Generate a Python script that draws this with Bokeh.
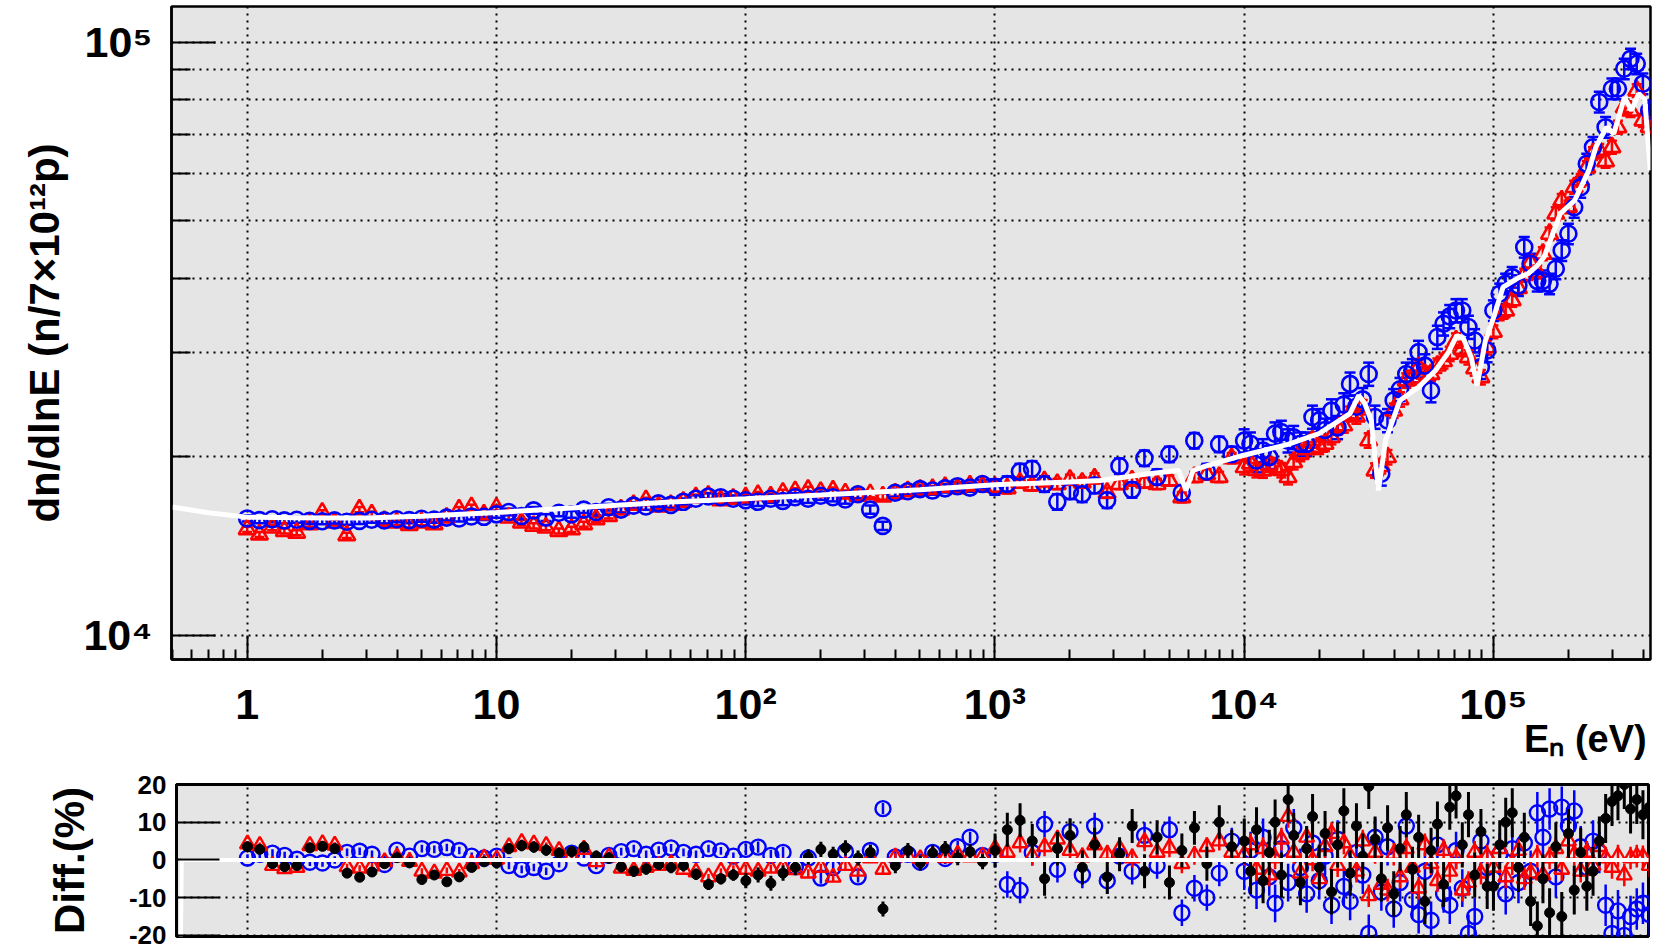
import math

from bokeh.embed import file_html
from bokeh.layouts import column, row
from bokeh.models import ColumnDataSource, FixedTicker, LogAxis, Range1d, TeeHead, Whisker
from bokeh.plotting import figure
from bokeh.resources import INLINE

# Neutron energy bins (eV): 20 per decade below 10 keV, 40 per decade above
energy_ev = [
    1.00, 1.12, 1.26, 1.41, 1.58, 1.78, 2.00, 2.24, 2.51, 2.82, 3.16, 3.55, 3.98, 4.47, 5.01, 5.62, 6.31, 7.08, 7.94, 8.91,
    10.0, 11.2, 12.6, 14.1, 15.8, 17.8, 20.0, 22.4, 25.1, 28.2, 31.6, 35.5, 39.8, 44.7, 50.1, 56.2, 63.1, 70.8, 79.4, 89.1,
    100, 112, 126, 141, 158, 178, 200, 224, 251, 282, 316, 355, 398, 447, 501, 562, 631, 708, 794, 891,
    1000, 1120, 1260, 1410, 1580, 1780, 2000, 2240, 2510, 2820, 3160, 3550, 3980, 4470, 5010, 5620, 6310, 7080, 7940, 8910,
    10000, 10600, 11200, 11900, 12600, 13300, 14100, 15000, 15800, 16800, 17800, 18800, 20000, 21100, 22400, 23700,
    25100, 26600, 28200, 29900, 31600, 33500, 35500, 37600, 39800, 42200, 44700, 47300, 50100, 53100, 56200, 59600,
    63100, 66800, 70800, 75000, 79400, 84100, 89100, 94400,
    100000, 106000, 112000, 119000, 126000, 133000, 141000, 150000, 158000, 168000, 178000, 188000, 200000,
    211000, 224000, 237000, 251000, 266000, 282000, 299000, 316000, 335000, 355000, 376000, 398000, 422000,
]

# dn/dlnE (n / 7x10^12 protons), blue data set
flux_blue = [
    15750, 15650, 15700, 15630, 15670, 15600, 15580, 15630, 15550, 15600, 15670, 15630, 15700, 15650, 15730, 15680, 15800, 15750, 15870, 15850,
    16000, 16150, 15900, 16250, 15800, 16100, 16000, 16300, 16150, 16450, 16300, 16550, 16500, 16700, 16600, 16800, 17000, 17150, 17100, 17000,
    16900, 16800, 17000, 16850, 17100, 17000, 17200, 17100, 16950, 17300, 16300, 15300, 17400, 17500, 17650, 17550, 17700, 17850, 17750, 18000,
    17800, 18000, 18900, 19100, 18000, 16800, 17500, 17300, 17900, 16900, 19300, 17600, 19900, 18500, 20200, 17400, 21300, 18900, 21000, 20200,
    21300, 21040, 19720, 20500, 19980, 21880, 22020, 21300, 21580, 21040,
    21040, 23350, 23040, 22200, 23930, 22430, 24500, 26550, 24300, 25000,
    27590, 23350, 18730, 23040, 24900, 26000, 27590, 27970, 30030, 28500,
    25880, 31840, 33530, 34500, 35300, 35300, 33100, 31420, 28330, 30230,
    35300, 37670, 39150, 40180, 38900, 45140, 42320, 39600, 39630, 39150, 41500, 44570, 47540,
    52700, 56970, 62370, 66530, 79300, 71900, 83480, 83480, 90200, 93740, 91950, 85120, 76700,
]

# dn/dlnE (n / 7x10^12 protons), red data set
flux_red = [
    15100, 14800, 15200, 15000, 14900, 15400, 16100, 15500, 14750, 16300, 16000, 15600, 15500, 15350, 15500, 15400, 15800, 16300, 16450, 16000,
    16400, 15800, 15500, 15300, 15200, 15000, 15100, 15400, 15700, 15900, 16300, 16600, 16900, 16500, 16600, 16800, 17100, 17200, 16900, 17000,
    17100, 17250, 17150, 17400, 17500, 17600, 17450, 17550, 17350, 17200, 17300, 17150, 17350, 17500, 17600, 17650, 17800, 17700, 17900, 17850,
    17800, 17700, 18100, 17900, 18200, 18000, 18300, 18100, 18400, 17400, 18000, 18250, 18100, 18000, 18250, 17100, 18500, 18700, 18500, 19900,
    19220, 19500, 19000, 18970, 19400, 19220, 19000, 18490, 19600, 20230,
    20600, 21320, 20800, 21040, 21600, 22430, 22600, 23650, 23400, 24260,
    21320, 18970, 19300, 19980, 23930, 25000, 26900, 27200, 28330, 27600,
    27590, 28500, 29000, 29840, 31420, 30400, 29440, 28200, 27250, 30600,
    32500, 34850, 35300, 36720, 38500, 40500, 42500, 41000, 44000, 47540, 51400, 54100, 52800,
    56970, 58500, 61500, 64900, 65700, 63000, 66530, 71900, 77700, 76700, 82900, 73800, 72000,
]

# relative uncertainty (%) per energy decade: 1 eV, 10 eV, 100 eV, 1 keV, 10 keV, 100 keV
flux_blue_err_pct = [1.2, 1.3, 1.6, 3.0, 4.5, 4.0]
flux_red_err_pct = [1.0, 1.0, 1.2, 2.0, 2.8, 2.5]

# simulated spectrum
sim_energy_ev = [
    0.5, 0.7, 1.0, 2.0, 3.0, 5.0, 10, 20, 50, 100, 200, 500,
    1000, 2000, 2650, 4000, 5000, 5465, 5840, 6240, 7000, 9890, 15000, 20000,
    26580, 28840, 30500, 32360, 34590, 36930, 42160, 50000, 58560, 66000, 71380, 76000,
    81470, 86100, 92900, 99300, 109400, 125000, 138000, 150000, 160000, 185500, 211800, 241500,
    257800, 284700, 304100, 335600, 358200, 382600, 405000, 426000,
]
sim_flux = [
    16460, 16100, 15830, 15770, 15780, 15880, 16120, 16400, 16780, 17000, 17250, 17600,
    17950, 18150, 18250, 18700, 18900, 18970, 17560, 18970, 19300, 20110, 21000, 21900,
    23650, 25390, 24600, 23040, 17560, 21320, 24900, 26200, 27970, 30000, 32040, 31600,
    29440, 26390, 31400, 33960, 38650, 40000, 40750, 42000, 43500, 51400, 54100, 60800,
    66600, 71900, 70100, 80700, 76700, 81900, 80000, 60800,
]

# difference to the simulation (%)
diff_blue = [
    0.5, 1.5, 1.8, 1.2, 0.2, -0.6, -0.8, 0.0, 2.0, 2.3, 1.5, -1.2, 2.6, 1.0, 3.0, 2.8, 3.3, 2.5, 1.0, 0.5,
    1.0, -1.5, -2.5, -2.0, -3.0, -1.0, 1.8, 0.5, -1.5, 1.2, 2.2, 3.0, 1.5, 2.6, 3.2, 2.0, 1.5, 3.0, 2.4, 1.0,
    2.8, 3.4, 1.2, 2.0, -1.8, 0.5, -4.8, -2.0, 2.2, -4.5, 2.5, 13.6, 0.8, 1.5, -0.6, 2.0, 0.4, 3.5, 6.0, 1.2,
    1.5, -6.5, -8.0, 2.0, 9.5, -2.5, 7.5, -4.0, 9.0, -5.5, 1.0, -3.0, 6.5, -1.5, 8.0, -14.0, -7.5, -10.0, -3.5, 5.0,
    -3.0, 2.5, -8.0, 6.0, -4.5, -11.5, 3.0, -6.0, 8.5, -2.0,
    -9.0, 4.5, -5.5, 1.0, -12.0, 5.5, -7.0, -11.0, 2.0, -4.0,
    -19.5, 6.0, -8.5, 3.5, -13.0, -6.0, 9.0, -10.5, -14.5, -3.0,
    -16.0, 4.0, -9.0, -12.0, 2.5, -7.5, -19.5, -15.0, 5.0, -2.0,
    -5.0, 1.5, -9.0, 3.0, -6.0, 4.5, -3.0, 12.5, 6.0, 13.5, -4.5, 14.0, 9.0,
    13.0, 3.5, -2.0, 5.0, 2.0, -12.0, -19.5, -13.5, -20.0, -15.0, -13.0, -11.5, -14.5,
]
diff_red = [
    4.2, 3.8, -1.5, -2.3, -2.0, 3.8, 4.3, 3.9, -1.8, -2.2, -1.6, -0.5, 0.8, -0.4, -3.0, -3.5, -2.8, -3.2, -1.0, 0.5,
    0.2, 3.5, 4.6, 4.2, 3.8, 2.5, 1.0, 2.8, -0.5, 0.8, -2.2, -2.8, -2.0, -1.5, -1.0, -2.5, -3.2, -4.5, -3.0, -2.2,
    -2.5, -3.0, -2.2, -1.8, -2.6, -3.5, -2.0, -4.6, -1.5, -3.0, 0.5, -2.5, 0.8, 1.0, 0.3, 1.2, 0.6, 1.5, 0.8, 1.0,
    3.0, 2.0, 4.5, 1.0, 3.5, 5.5, 2.5, 0.8, 4.0, 1.5, 3.0, 0.5, 4.8, 2.0, 3.2, -1.0, 1.2, 3.5, 5.0, 2.0,
    1.5, 4.0, -2.5, 3.0, -4.0, 0.5, 5.5, 11.5, 2.0, -3.5,
    6.0, 0.0, -5.0, 3.5, 7.0, -1.5, 4.5, 1.0, -3.0, 5.0,
    -9.5, 2.0, -6.5, -8.0, 1.5, -4.5, 3.0, -2.0, -7.5, 4.0,
    -1.0, -5.5, 2.5, -3.0, 0.5, -8.0, -6.0, 2.0, -3.5, 1.0,
    -2.0, 3.0, -4.5, -1.0, 2.5, -5.0, -3.5, 1.0, -4.0, 0.5, 3.0, -2.5, 5.0,
    1.5, -3.0, 2.0, -1.5, 3.5, 0.5, -2.0, 1.0, -4.0, 0.5, 1.0, 0.8, -1.5,
]
diff_black = [
    3.5, 2.8, -1.0, -1.8, -1.5, 3.2, 3.6, 3.0, -3.5, -4.6, -3.2, -1.0, 0.6, -0.8, -5.2, -4.0, -5.8, -4.5, -2.0, -0.5,
    -0.8, 3.0, 3.8, 3.4, 2.6, 1.8, 2.2, 3.4, 1.0, 0.5, -1.8, -3.0, -2.4, -1.2, -2.0, -1.5, -3.8, -6.5, -5.0, -4.0,
    -5.5, -4.0, -6.2, -3.5, -2.0, 0.8, 2.8, 1.5, 3.2, 0.5, 2.0, -13.0, -1.5, 2.5, -0.8, 1.8, 3.0, 0.6, 2.2, -0.5,
    2.5, 8.0, 10.5, 5.0, -5.0, 3.0, 6.5, -2.0, 4.0, -4.5, 1.5, 9.0, -3.0, 6.0, -6.0, 2.5, 8.5, -1.0, 10.0, 3.5,
    5.0, -3.0, 8.0, -5.5, 2.0, 10.0, -4.0, 16.0, 6.5, -6.0,
    3.0, 11.5, -2.0, 7.0, -8.5, 4.0, 13.0, -3.5, 9.0, 1.0,
    19.5, 5.5, -5.0, 8.5, -9.0, 3.0, 12.0, -2.5, 6.0, -11.0,
    2.5, 9.5, -6.5, 14.0, 17.0, 4.0, 12.0, -4.0, 7.5, -7.0,
    -7.0, 4.0, 10.0, 12.5, -2.0, 6.0, -11.0, -17.5, -5.0, -14.0, 3.5, -15.0, 7.0,
    -8.0, 2.0, -7.0, -3.0, 5.0, 11.0, 15.5, 17.0, 20.0, 13.5, 16.0, 12.0, 14.0,
]
# uncertainty of the difference (percentage points) per energy decade
diff_blue_err = [1.0, 1.0, 1.5, 3.5, 5.0, 5.5]
diff_red_err = [0.8, 0.8, 1.0, 2.5, 3.0, 3.0]
diff_black_err = [1.2, 1.5, 2.0, 4.5, 6.0, 6.5]

sim_diff_energy_ev = [0.54, 0.545, 430000]
sim_diff = [-25.0, 0.0, 0.0]

x_tick_labels = {1: "1", 10: "10", 100: "10²", 1000: "10³", 10000: "10⁴", 100000: "10⁵"}
y_tick_labels = {10000: "10⁴", 100000: "10⁵"}
diff_tick_labels = {-20: "-20", -10: "-10", 0: "0", 10: "10", 20: "20"}
x_title = "Eₙ (eV)"

FONT = "Liberation Sans"
PANEL_BG = "#e5e5e5"
GRID_DASH = "2 5"


def decade(e):
    return min(5, max(0, int(math.floor(math.log10(e) + 1e-9))))


def scaled(values, pct_by_decade, sign):
    return [v * (1 + sign * pct_by_decade[decade(e)] / 100.0) for e, v in zip(energy_ev, values)]


def shifted(values, err_by_decade, sign):
    return [v + sign * err_by_decade[decade(e)] for e, v in zip(energy_ev, values)]


decades = [1, 10, 100, 1000, 10000, 100000]

# ---------------- upper panel: spectrum ----------------
top = figure(
    width=1659, height=765,
    x_axis_type="log", y_axis_type="log",
    x_range=Range1d(0.497, 4.27e5), y_range=Range1d(9.11e3, 1.1485e5),
    output_backend="svg", toolbar_location=None,
    min_border_left=171, min_border_right=9, min_border_top=6, min_border_bottom=106,
    background_fill_color=PANEL_BG, border_fill_color="white",
    outline_line_color="black", outline_line_width=2.5,
)

xa = top.xaxis[0]
xa.ticker = FixedTicker(
    ticks=decades,
    minor_ticks=[m * 10.0 ** d for d in range(-1, 6) for m in range(2, 10) if 0.497 <= m * 10.0 ** d <= 4.27e5],
)
xa.major_label_overrides = x_tick_labels
xa.major_tick_in = 24
xa.minor_tick_in = 10
xa.major_label_standoff = 20

ya = top.yaxis[0]
ya.ticker = FixedTicker(ticks=[1e4, 1e5], minor_ticks=[m * 1e4 for m in range(2, 10)])
ya.major_label_overrides = y_tick_labels
ya.major_tick_in = 44
ya.minor_tick_in = 19
ya.major_label_standoff = 19
ya.axis_label = "dn/dlnE (n/7×10¹²p)"
ya.axis_label_text_font = FONT
ya.axis_label_text_font_style = "bold"
ya.axis_label_text_font_size = "42px"
ya.axis_label_text_color = "black"
ya.axis_label_standoff = 12

for ax in (xa, ya):
    ax.axis_line_color = "black"
    ax.axis_line_width = 2.5
    ax.major_tick_out = 0
    ax.minor_tick_out = 0
    ax.major_tick_line_color = "black"
    ax.minor_tick_line_color = "black"
    ax.major_tick_line_width = 2
    ax.minor_tick_line_width = 2
    ax.major_label_text_font = FONT
    ax.major_label_text_font_style = "bold"
    ax.major_label_text_font_size = "43px"
    ax.major_label_text_color = "black"

# energy title, set flush right under the last decade label
title_axis = LogAxis(
    ticker=FixedTicker(ticks=[234000], minor_ticks=[]),
    major_label_overrides={234000: x_title},
    axis_line_color=None, major_tick_line_color=None, minor_tick_line_color=None,
    major_tick_in=0, major_tick_out=0, minor_tick_in=0, minor_tick_out=0,
    major_label_standoff=-13,
    major_label_text_font=FONT, major_label_text_font_style="bold",
    major_label_text_font_size="38px", major_label_text_color="black",
)
top.add_layout(title_axis, "below")

top.xgrid.grid_line_color = "black"
top.xgrid.grid_line_dash = GRID_DASH
top.xgrid.grid_line_width = 2
top.ygrid.grid_line_color = "black"
top.ygrid.grid_line_dash = GRID_DASH
top.ygrid.grid_line_width = 2
top.ygrid.minor_grid_line_color = "black"
top.ygrid.minor_grid_line_dash = GRID_DASH
top.ygrid.minor_grid_line_width = 2

spec = ColumnDataSource(dict(
    e=energy_ev,
    blue=flux_blue,
    blue_lo=scaled(flux_blue, flux_blue_err_pct, -1),
    blue_hi=scaled(flux_blue, flux_blue_err_pct, +1),
    red=flux_red,
    red_lo=scaled(flux_red, flux_red_err_pct, -1),
    red_hi=scaled(flux_red, flux_red_err_pct, +1),
))

top.add_layout(Whisker(
    source=spec, base="e", lower="red_lo", upper="red_hi", dimension="height",
    line_color="red", line_width=2.5,
    upper_head=TeeHead(size=10, line_color="red", line_width=2.5),
    lower_head=TeeHead(size=10, line_color="red", line_width=2.5),
))
top.scatter("e", "red", source=spec, marker="triangle", size=17,
            fill_color=None, line_color="red", line_width=2.6)
top.add_layout(Whisker(
    source=spec, base="e", lower="blue_lo", upper="blue_hi", dimension="height",
    line_color="blue", line_width=2.5,
    upper_head=TeeHead(size=11, line_color="blue", line_width=2.5),
    lower_head=TeeHead(size=11, line_color="blue", line_width=2.5),
))
top.scatter("e", "blue", source=spec, marker="circle", size=16,
            fill_color=None, line_color="blue", line_width=2.6)
top.line(sim_energy_ev, sim_flux, line_color="white", line_width=5)

# ---------------- lower panel: difference ----------------
bottom = figure(
    width=1659, height=185,
    x_axis_type="log",
    x_range=Range1d(0.519, 4.19e5), y_range=Range1d(-20.3, 20),
    output_backend="svg", toolbar_location=None,
    min_border_left=176, min_border_right=11, min_border_top=19, min_border_bottom=14,
    background_fill_color=PANEL_BG, border_fill_color="white",
    outline_line_color="black", outline_line_width=3,
)
bottom.xaxis.visible = False
bottom.xgrid.ticker = FixedTicker(ticks=decades)
bottom.xgrid.grid_line_color = "black"
bottom.xgrid.grid_line_dash = GRID_DASH
bottom.xgrid.grid_line_width = 2

ba = bottom.yaxis[0]
ba.ticker = FixedTicker(ticks=[-20, -10, 0, 10, 20])
ba.major_label_overrides = diff_tick_labels
ba.axis_line_color = "black"
ba.axis_line_width = 3
ba.major_tick_in = 43
ba.major_tick_out = 0
ba.major_tick_line_width = 2
ba.minor_tick_line_color = None
ba.major_label_standoff = 10
ba.major_label_text_font = FONT
ba.major_label_text_font_style = "bold"
ba.major_label_text_font_size = "26px"
ba.major_label_text_color = "black"
ba.axis_label = "Diff.(%)"
ba.axis_label_text_font = FONT
ba.axis_label_text_font_style = "bold"
ba.axis_label_text_font_size = "42px"
ba.axis_label_text_color = "black"
ba.axis_label_standoff = 33

bottom.ygrid.grid_line_color = "black"
bottom.ygrid.grid_line_dash = GRID_DASH
bottom.ygrid.grid_line_width = 2

diff = ColumnDataSource(dict(
    e=energy_ev,
    blue=diff_blue,
    blue_lo=shifted(diff_blue, diff_blue_err, -1),
    blue_hi=shifted(diff_blue, diff_blue_err, +1),
    red=diff_red,
    red_lo=shifted(diff_red, diff_red_err, -1),
    red_hi=shifted(diff_red, diff_red_err, +1),
    black=diff_black,
    black_lo=shifted(diff_black, diff_black_err, -1),
    black_hi=shifted(diff_black, diff_black_err, +1),
))

bottom.segment("e", "blue_lo", "e", "blue_hi", source=diff, line_color="blue", line_width=2.5)
bottom.scatter("e", "blue", source=diff, marker="circle", size=15,
               fill_color=None, line_color="blue", line_width=2.4)
bottom.segment("e", "red_lo", "e", "red_hi", source=diff, line_color="red", line_width=2.5)
bottom.scatter("e", "red", source=diff, marker="triangle", size=15,
               fill_color=None, line_color="red", line_width=2.4)
bottom.segment("e", "black_lo", "e", "black_hi", source=diff, line_color="black", line_width=3)
bottom.scatter("e", "black", source=diff, marker="circle", size=10,
               fill_color="black", line_color="black", line_width=1)
bottom.line(sim_diff_energy_ev, sim_diff, line_color="white", line_width=4)

# each panel sits in its own row so the two frames keep their own borders
layout = column(row(top), row(bottom), spacing=0)
open("out.html", "w").write(file_html(layout, INLINE))
